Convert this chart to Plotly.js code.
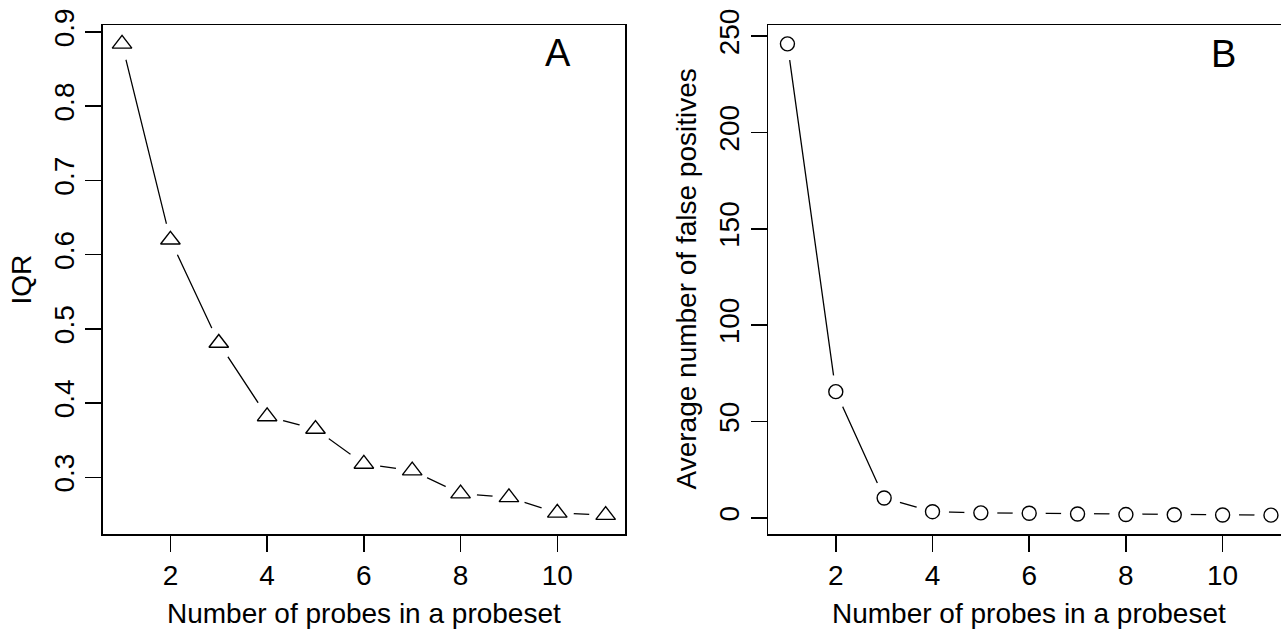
<!DOCTYPE html>
<html>
<head>
<meta charset="utf-8">
<script src="https://cdn.plot.ly/plotly-3.0.1.min.js"></script>
<style>
html, body { margin: 0; padding: 0; overflow: hidden; background: #fff; }
#chart { width: 1291px; height: 630px; }
</style>
</head>
<body>
<div id="chart"></div>
<script>
// Data
const probes = [1, 2, 3, 4, 5, 6, 7, 8, 9, 10, 11];
const iqr = [0.884, 0.620, 0.481, 0.382, 0.365, 0.318, 0.309, 0.278, 0.273, 0.252, 0.249];
const falsePositives = [246, 65.5, 10.3, 3.2, 2.6, 2.4, 2.0, 1.7, 1.6, 1.5, 1.4];
const xTicks = [2, 4, 6, 8, 10];
const iqrTicks = [0.3, 0.4, 0.5, 0.6, 0.7, 0.8, 0.9];
const fpTicks = [0, 50, 100, 150, 200, 250];
const xTitle = "Number of probes in a probeset";
const yTitleA = "IQR";
const yTitleB = "Average number of false positives";
const panelA = "A";
const panelB = "B";

// R-style 4% range extension
function rRange(arr) {
  const mn = Math.min(...arr), mx = Math.max(...arr);
  const d = (mx - mn) * 0.04;
  return [mn - d, mx + d];
}

const FONT = "Liberation Sans, Arial, Helvetica, sans-serif";
const W = 1291, H = 630;

function seriesTraces(x, y, xa, ya, symbol, size) {
  return [
    { x: x, y: y, xaxis: xa, yaxis: ya, type: "scatter", mode: "lines",
      line: { color: "#000", width: 1.3 }, hoverinfo: "skip", showlegend: false, cliponaxis: false },
    { x: x, y: y, xaxis: xa, yaxis: ya, type: "scatter", mode: "markers",
      marker: { symbol: "circle", size: 33, color: "#fff", line: { width: 0 } },
      hoverinfo: "skip", showlegend: false, cliponaxis: false },
    { x: x, y: y, xaxis: xa, yaxis: ya, type: "scatter", mode: "markers",
      marker: { symbol: symbol, size: size, color: "rgba(255,255,255,0)", line: { color: "#000", width: 1.4 } },
      showlegend: false, cliponaxis: false }
  ];
}

const data = [].concat(
  seriesTraces(probes, iqr, "x", "y", "triangle-up", 17),
  seriesTraces(probes, falsePositives, "x2", "y2", "circle", 14)
);

const axisCommon = {
  showgrid: false, zeroline: false, showline: true, mirror: true,
  linecolor: "#000", linewidth: 1.5,
  ticks: "outside", ticklen: 16, tickwidth: 1.5, tickcolor: "#000",
  tickfont: { family: FONT, size: 28, color: "#000" },
  fixedrange: true
};

const yDom = [(H - 534) / H, (H - 25) / H];

const layout = {
  width: W, height: H,
  margin: { l: 0, r: 0, t: 0, b: 0 },
  paper_bgcolor: "#fff", plot_bgcolor: "#fff",
  showlegend: false,
  xaxis: Object.assign({}, axisCommon, {
    domain: [102.7 / W, 625 / W], range: rRange(probes),
    tickmode: "array", tickvals: xTicks, ticklabelstandoff: 0, anchor: "y"
  }),
  yaxis: Object.assign({}, axisCommon, {
    domain: yDom, range: rRange(iqr),
    tickmode: "array", tickvals: iqrTicks, ticktext: iqrTicks.map(v => v.toFixed(1)),
    tickangle: -90, ticklabelstandoff: 0, anchor: "x"
  }),
  xaxis2: Object.assign({}, axisCommon, {
    domain: [768.1 / W, 1290.3 / W], range: rRange(probes),
    tickmode: "array", tickvals: xTicks, ticklabelstandoff: 0, anchor: "y2"
  }),
  yaxis2: Object.assign({}, axisCommon, {
    domain: yDom, range: rRange(falsePositives),
    tickmode: "array", tickvals: fpTicks,
    tickangle: -90, ticklabelstandoff: 0, anchor: "x2"
  }),
  annotations: [
    { text: xTitle, xref: "paper", yref: "paper", x: ((102.7 + 625) / 2) / W, y: (H - 613) / H,
      xanchor: "center", yanchor: "middle", showarrow: false, font: { family: FONT, size: 28, color: "#000" } },
    { text: xTitle, xref: "paper", yref: "paper", x: ((768.1 + 1290.3) / 2) / W, y: (H - 613) / H,
      xanchor: "center", yanchor: "middle", showarrow: false, font: { family: FONT, size: 28, color: "#000" } },
    { text: yTitleA, xref: "paper", yref: "paper", x: 21 / W, y: (H - 279.5) / H, textangle: -90,
      xanchor: "center", yanchor: "middle", showarrow: false, font: { family: FONT, size: 28, color: "#000" } },
    { text: yTitleB, xref: "paper", yref: "paper", x: 686 / W, y: (H - 279.5) / H, textangle: -90,
      xanchor: "center", yanchor: "middle", showarrow: false, font: { family: FONT, size: 28, color: "#000" } },
    { text: panelA, xref: "x domain", yref: "y domain", x: 0.8708, y: 0.945,
      xanchor: "center", yanchor: "middle", showarrow: false, font: { family: FONT, size: 38, color: "#000" } },
    { text: panelB, xref: "x2 domain", yref: "y2 domain", x: 0.8717, y: 0.943,
      xanchor: "center", yanchor: "middle", showarrow: false, font: { family: FONT, size: 38, color: "#000" } }
  ]
};

Plotly.newPlot("chart", data, layout, { displayModeBar: false, staticPlot: true });
</script>
</body>
</html>
